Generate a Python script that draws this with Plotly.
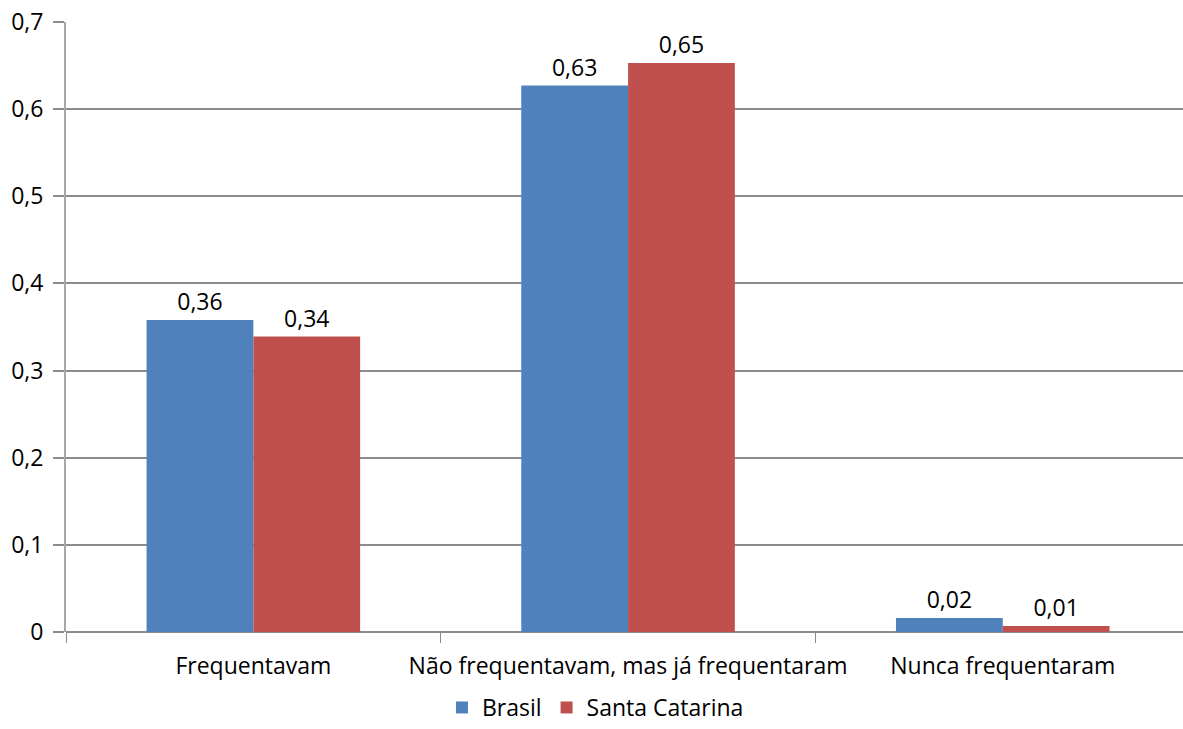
import plotly.graph_objects as go

categories = ["Frequentavam", "Não frequentavam, mas já frequentaram", "Nunca frequentaram"]
brasil = [0.358, 0.627, 0.016]
santa_catarina = [0.339, 0.653, 0.007]
y_ticks = [0, 0.1, 0.2, 0.3, 0.4, 0.5, 0.6, 0.7]

FONT = "Open Sans"
FS = 23
GRID = "#8c8c8c"

fig = go.Figure()

fig.add_trace(go.Bar(
    name="Brasil", x=categories, y=brasil,
    marker=dict(color="#4F81BD", line=dict(width=0)),
    texttemplate="%{y:.2f}", textposition="outside",
    textfont=dict(color="black", size=FS, family=FONT),
    cliponaxis=False,
))
fig.add_trace(go.Bar(
    name="Santa Catarina", x=categories, y=santa_catarina,
    marker=dict(color="#C0504D", line=dict(width=0)),
    texttemplate="%{y:.2f}", textposition="outside",
    textfont=dict(color="black", size=FS, family=FONT),
    cliponaxis=False,
))

fig.update_layout(
    width=1183, height=729,
    separators=",.",
    barmode="group",
    bargap=0.43,
    bargroupgap=0,
    plot_bgcolor="white",
    paper_bgcolor="white",
    font=dict(family=FONT, size=FS, color="black"),
    margin=dict(l=66, r=0, t=22, b=97),
    # legend kept fully inside the page so nothing overflows
    legend=dict(
        orientation="h", x=0.474, xanchor="center",
        y=0, yref="container", yanchor="bottom",
        font=dict(size=FS), itemwidth=30, tracegroupgap=0,
    ),
    xaxis=dict(
        range=[-0.5, 2.481], automargin=False, tickangle=0,
        showline=False, showgrid=False,
        ticks="outside", tickson="boundaries", ticklen=10, tickcolor=GRID,
        tickfont=dict(size=FS), ticklabelstandoff=18,
    ),
    yaxis=dict(
        range=[0, 0.7], tickvals=y_ticks, automargin=False,
        showgrid=True, gridcolor=GRID, gridwidth=2,
        zeroline=True, zerolinecolor=GRID, zerolinewidth=2,
        showline=True, linecolor="#a6a6a6", linewidth=2,
        ticks="outside", ticklen=11, tickcolor=GRID, tickwidth=2,
        tickfont=dict(size=FS), ticklabelstandoff=5,
    ),
)

page_fix = (
    "document.documentElement.style.overflow='hidden';"
    "document.body.style.margin='0';"
    "document.body.style.overflow='hidden';"
)
fig.write_html("out.html", config={"displayModeBar": False}, post_script=page_fix)
